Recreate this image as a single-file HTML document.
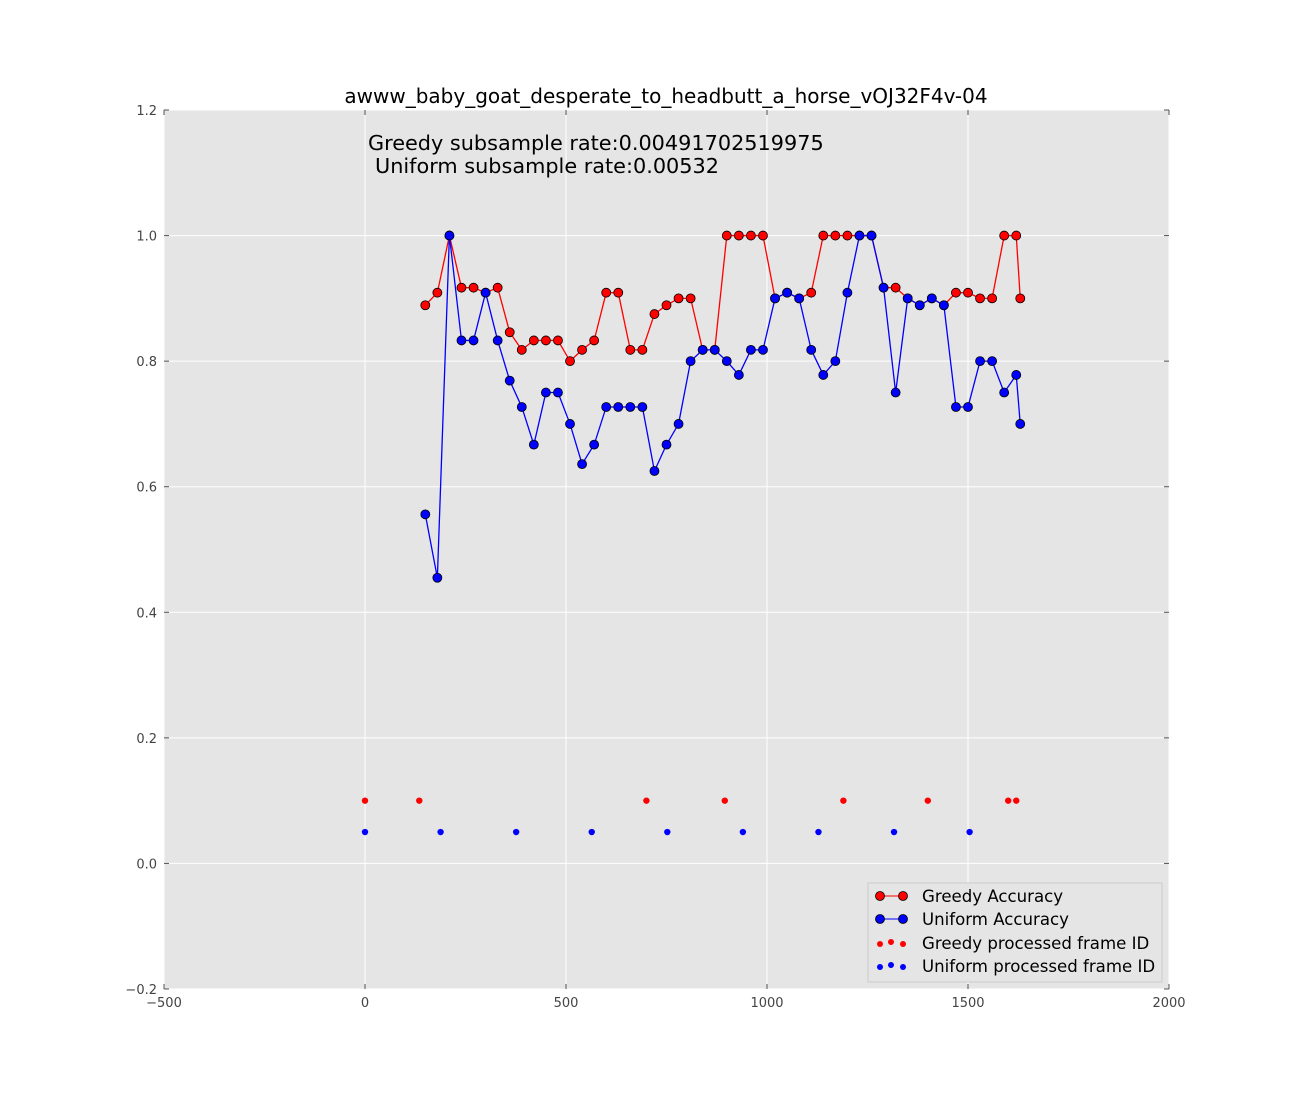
<!DOCTYPE html>
<html><head><meta charset="utf-8"><style>
body{margin:0;background:#fff;}
svg text{font-family:"DejaVu Sans","Liberation Sans",sans-serif;}
</style></head><body>
<svg id="chart" width="1300" height="1100" xmlns="http://www.w3.org/2000/svg">
<rect width="1300" height="1100" fill="#fff"/>
<rect x="164" y="110" width="1005" height="879" fill="#e5e5e5"/>
<g id="grid"></g><g id="ticks"></g><g id="series"></g>
<text x="666" y="103" font-size="20" text-anchor="middle">awww_baby_goat_desperate_to_headbutt_a_horse_vOJ32F4v-04</text>
<text x="368" y="150" font-size="20.8">Greedy subsample rate:0.00491702519975</text>
<text x="375" y="173" font-size="20.8">Uniform subsample rate:0.00532</text>
<g>
<rect x="868" y="883" width="294" height="99" fill="#e5e5e5" stroke="#ccc"/>
<line x1="876" y1="896" x2="904" y2="896" stroke="red"/><circle cx="880" cy="896" r="4.5" fill="red" stroke="#000" stroke-width="0.8"/><circle cx="903" cy="896" r="4.5" fill="red" stroke="#000" stroke-width="0.8"/>
<text x="922" y="902" font-size="16.6">Greedy Accuracy</text>
<line x1="876" y1="919" x2="904" y2="919" stroke="blue"/><circle cx="880" cy="919" r="4.5" fill="blue" stroke="#000" stroke-width="0.8"/><circle cx="903" cy="919" r="4.5" fill="blue" stroke="#000" stroke-width="0.8"/>
<text x="922" y="925" font-size="16.6">Uniform Accuracy</text>
<circle cx="880" cy="944" r="3" fill="red"/><circle cx="891" cy="942" r="3" fill="red"/><circle cx="903" cy="944" r="3" fill="red"/>
<text x="922" y="949" font-size="16.6">Greedy processed frame ID</text>
<circle cx="880" cy="967" r="3" fill="blue"/><circle cx="891" cy="965" r="3" fill="blue"/><circle cx="903" cy="967" r="3" fill="blue"/>
<text x="922" y="972" font-size="16.6">Uniform processed frame ID</text>
</g>
</svg>
<script>
const xs=[150,180,210,240,270,300,330,360,390,420,450,480,510,540,570,600,630,660,690,720,750,780,810,840,870,900,930,960,990,1020,1050,1080,1110,1140,1170,1200,1230,1260,1290,1320,1350,1380,1410,1440,1470,1500,1530,1560,1590,1620,1630];
const greedyAcc=[0.889,0.909,1.0,0.917,0.917,0.909,0.917,0.846,0.818,0.833,0.833,0.833,0.8,0.818,0.833,0.909,0.909,0.818,0.818,0.875,0.889,0.9,0.9,0.818,0.818,1.0,1.0,1.0,1.0,0.9,0.909,0.9,0.909,1.0,1.0,1.0,1.0,1.0,0.917,0.917,0.9,0.889,0.9,0.889,0.909,0.909,0.9,0.9,1.0,1.0,0.9];
const uniformAcc=[0.556,0.455,1.0,0.833,0.833,0.909,0.833,0.769,0.727,0.667,0.75,0.75,0.7,0.636,0.667,0.727,0.727,0.727,0.727,0.625,0.667,0.7,0.8,0.818,0.818,0.8,0.778,0.818,0.818,0.9,0.909,0.9,0.818,0.778,0.8,0.909,1.0,1.0,0.917,0.75,0.9,0.889,0.9,0.889,0.727,0.727,0.8,0.8,0.75,0.778,0.7];
const greedyFrames=[0,135,700,895,1190,1400,1600,1620];
const uniformFrames=[0,188,376,564,752,940,1128,1316,1504];
const xTicks=[-500,0,500,1000,1500,2000];
const yTicks=[-0.2,0.0,0.2,0.4,0.6,0.8,1.0,1.2];
const L=164,R=1169,T=110,B=989;
const X=v=>L+(v+500)/2500*(R-L);
const Y=v=>B-(v+0.2)/1.4*(B-T);
const NS="http://www.w3.org/2000/svg";
function mk(parent,tag,attrs){const e=document.createElementNS(NS,tag);for(const k in attrs)e.setAttribute(k,attrs[k]);parent.appendChild(e);return e;}
const grid=document.getElementById('grid'),ticks=document.getElementById('ticks'),ser=document.getElementById('series');
xTicks.forEach(t=>{const x=X(t);
 const g=mk(grid,'line',{x1:x,x2:x,y1:T,y2:B,stroke:'#fff','stroke-width':1});
 
 
 mk(ticks,'line',{x1:x,x2:x,y1:B,y2:B-5,stroke:'#555'});mk(ticks,'line',{x1:x,x2:x,y1:T,y2:T+5,stroke:'#555'});
 const tx=mk(ticks,'text',{x:x,y:B+18,'font-size':13,fill:'#444','text-anchor':'middle'});tx.textContent=t<0?'\u2212'+(-t):String(t);
 
 });
yTicks.forEach(t=>{const y=Y(t);
 const g=mk(grid,'line',{x1:L,x2:R,y1:y,y2:y,stroke:'#fff','stroke-width':1});
 
 
 mk(ticks,'line',{x1:L,x2:L+5,y1:y,y2:y,stroke:'#555'});mk(ticks,'line',{x1:R,x2:R-5,y1:y,y2:y,stroke:'#555'});
 const tx=mk(ticks,'text',{x:L-7,y:y+5,'font-size':13,fill:'#444','text-anchor':'end'});tx.textContent=(t<0?'\u2212':'')+Math.abs(t).toFixed(1);
 
 });
function lineSeries(vals,color,name){
 const p=mk(ser,'polyline',{points:xs.map((x,i)=>X(x)+','+Y(vals[i])).join(' '),fill:'none',stroke:color,'stroke-width':1.3});
 
 
 xs.forEach((x,i)=>{const c=mk(ser,'circle',{cx:X(x),cy:Y(vals[i]),r:4.5,fill:color,stroke:'#000','stroke-width':0.8});
 
 });
}
function dots(frames,yv,color,name){frames.forEach(f=>{const c=mk(ser,'circle',{cx:X(f),cy:Y(yv),r:3.2,fill:color});
 
 });}
lineSeries(greedyAcc,'red','greedy-accuracy');
lineSeries(uniformAcc,'blue','uniform-accuracy');
dots(greedyFrames,0.1,'red','greedy-frame-dot');
dots(uniformFrames,0.05,'blue','uniform-frame-dot');
</script>
</body></html>
